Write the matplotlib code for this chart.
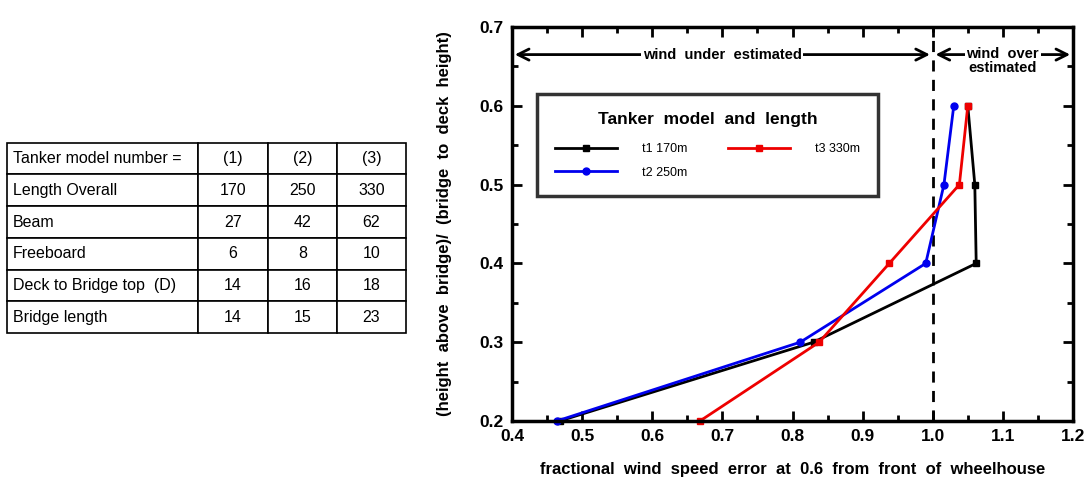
import numpy as np
import matplotlib
matplotlib.use("Agg")
import matplotlib.pyplot as plt
from matplotlib.ticker import MultipleLocator

plt.rcParams['font.family'] = ['Liberation Sans', 'DejaVu Sans']

# table data
row_labels = ["Tanker model number =", "Length Overall", "Beam", "Freeboard",
              "Deck to Bridge top  (D)", "Bridge length"]
col1 = ["(1)", "170", "27", "6", "14", "14"]
col2 = ["(2)", "250", "42", "8", "16", "15"]
col3 = ["(3)", "330", "62", "10", "18", "23"]

# chart data: height ratio vs fractional wind speed error
height = [0.2, 0.3, 0.4, 0.5, 0.6]
t1_err = [0.468, 0.830, 1.062, 1.060, 1.050]
t2_err = [0.464, 0.811, 0.990, 1.016, 1.030]
t3_err = [0.668, 0.838, 0.938, 1.038, 1.050]

fig = plt.figure(figsize=(10.86, 4.84), dpi=100)

# ---- table ----
tax = fig.add_axes([0.0064, 0.312, 0.367, 0.393])
tax.axis('off')
cells = [[a, b, c, d] for a, b, c, d in zip(row_labels, col1, col2, col3)]
tbl = tax.table(cellText=cells, colWidths=[0.479, 0.175, 0.175, 0.171],
                cellLoc='center', bbox=[0, 0, 1, 1])
tbl.auto_set_font_size(False)
tbl.set_fontsize(11.5)
for (r, c), cell in tbl.get_celld().items():
    cell.set_linewidth(1.2)
    cell.set_edgecolor('black')
    if c == 0:
        cell.set_text_props(ha='left')
        cell.PAD = 0.03

# ---- chart ----
ax = fig.add_axes([0.4715, 0.1302, 0.5165, 0.814])
ax.plot(t1_err, height, 'k-s', lw=2, markersize=4, label="t1 170m", clip_on=False, zorder=3)
ax.plot(t2_err, height, '-o', color='#0000ee', lw=2, markersize=5, label="t2 250m",
        clip_on=False, zorder=3)
ax.plot(t3_err, height, '-s', color='#ee0000', lw=2, markersize=5, label="t3 330m",
        clip_on=False, zorder=3)
ax.axvline(1.0, color='black', lw=2, ls=(0, (4, 3)))

ax.set_xlim(0.4, 1.2)
ax.set_ylim(0.2, 0.7)
ax.xaxis.set_major_locator(MultipleLocator(0.1))
ax.xaxis.set_minor_locator(MultipleLocator(0.05))
ax.yaxis.set_major_locator(MultipleLocator(0.1))
ax.yaxis.set_minor_locator(MultipleLocator(0.05))
ax.tick_params(which='both', direction='in', top=True, right=True, width=2)
ax.tick_params(which='major', length=7, labelsize=12.5, pad=6)
ax.tick_params(which='minor', length=4)
for lbl in ax.get_xticklabels() + ax.get_yticklabels():
    lbl.set_fontweight('bold')
for s in ax.spines.values():
    s.set_linewidth(2.5)
    s.set_zorder(4)

ax.set_xlabel("fractional  wind  speed  error  at  0.6  from  front  of  wheelhouse",
              fontsize=12, fontweight='bold', labelpad=13)
ax.set_ylabel("(height  above  bridge)/  (bridge  to  deck  height)",
              fontsize=12, fontweight='bold', labelpad=20)

# region arrows
ya = 0.665
ax.annotate("", xy=(0.4, ya), xytext=(1.0, ya),
            arrowprops=dict(arrowstyle='<->', lw=2, color='black', mutation_scale=20))
ax.annotate("", xy=(1.0, ya), xytext=(1.2, ya),
            arrowprops=dict(arrowstyle='<->', lw=2, color='black', mutation_scale=20))
ax.text(0.7, ya, "wind  under  estimated", ha='center', va='center', fontsize=10.5,
        fontweight='bold', bbox=dict(facecolor='white', edgecolor='none', pad=1))
ax.text(1.1, ya - 0.008, "wind  over\nestimated", ha='center', va='center', fontsize=10.5,
        fontweight='bold', linespacing=1.0,
        bbox=dict(facecolor='white', edgecolor='none', pad=1))

leg = ax.legend(ncol=2, loc='upper left', bbox_to_anchor=(0.034, 0.845),
                title="Tanker  model  and  length", fontsize=9,
                frameon=True, fancybox=False, edgecolor='black',
                handlelength=5, handletextpad=2, columnspacing=3.2,
                borderpad=1.4, labelspacing=0.9)
leg.get_frame().set_linewidth(2.5)
leg.get_title().set_fontweight('bold')
leg.get_title().set_fontsize(12.5)
leg._legend_box.sep = 12

fig.savefig("out.png", dpi=100)
